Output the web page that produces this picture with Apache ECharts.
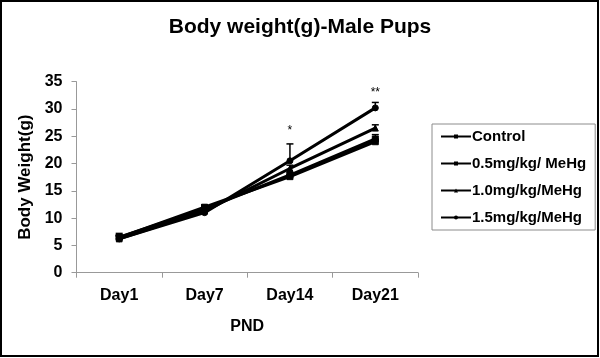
<!DOCTYPE html>
<html>
<head>
<meta charset="utf-8">
<script src="https://cdn.jsdelivr.net/npm/echarts@6/dist/echarts.min.js"></script>
<style>
html,body{margin:0;padding:0;background:#fff;}
#chart{width:600px;height:358px;}
</style>
</head>
<body>
<div id="chart"></div>
<script>
var categories = ['Day1', 'Day7', 'Day14', 'Day21'];
var yTicks = [0, 5, 10, 15, 20, 25, 30, 35];
var seriesNames = ['Control', '0.5mg/kg/ MeHg', '1.0mg/kg/MeHg', '1.5mg/kg/MeHg'];
var control = [6.4, 12.0, 17.6, 24.0];
var mg05 = [6.5, 11.7, 17.9, 24.5];
var mg10 = [6.2, 11.3, 19.1, 26.5];
var mg15 = [6.2, 11.0, 20.5, 30.2];
var errControl = [0.5, 0.4, 0.4, 0.4];
var errMg05 = [0.7, 0.4, 0.5, 0.8];
var errMg10 = [0.6, 0.4, 0.6, 0.6];
var errMg15 = [0.5, 0.4, 3.1, 1.0];
var sigMarks = [[2, 26.1, '*'], [3, 33.0, '**']];

var FONT = 'Liberation Sans, Arial, sans-serif';
var chart = echarts.init(document.getElementById('chart'), null, {renderer: 'canvas'});

var allValues = [control, mg05, mg10, mg15];
var allErrs = [errControl, errMg05, errMg10, errMg15];
var symbols = ['rect', 'rect', 'triangle', 'circle'];

var series = [];
allValues.forEach(function (vals, i) {
  series.push({
    name: seriesNames[i],
    type: 'line',
    data: vals,
    symbol: symbols[i],
    symbolSize: 6,
    showAllSymbol: true,
    lineStyle: {color: '#000', width: 3},
    itemStyle: {color: '#000', borderColor: '#000'},
    z: 3
  });
});
allValues.forEach(function (vals, i) {
  var errs = allErrs[i];
  series.push({
    type: 'custom',
    silent: true,
    z: 4,
    data: vals.map(function (v, k) { return [k, v, errs[k]]; }),
    renderItem: function (params, api) {
      var x = api.value(0), v = api.value(1), e = api.value(2);
      var p0 = api.coord([x, v]);
      var p1 = api.coord([x, v + e]);
      var hw = 3.5;
      return {
        type: 'group',
        children: [
          {type: 'line', shape: {x1: p0[0], y1: p0[1], x2: p1[0], y2: p1[1]}, style: {stroke: '#000', lineWidth: 1.5}},
          {type: 'line', shape: {x1: p1[0] - hw, y1: p1[1], x2: p1[0] + hw, y2: p1[1]}, style: {stroke: '#000', lineWidth: 1.5}}
        ]
      };
    }
  });
});
series.push({
  type: 'custom',
  silent: true,
  z: 5,
  data: sigMarks,
  renderItem: function (params, api) {
    var p = api.coord([api.value(0), api.value(1)]);
    return {
      type: 'text',
      x: p[0],
      y: p[1],
      style: {
        text: sigMarks[params.dataIndex][2],
        fill: '#000',
        font: '12px ' + FONT,
        align: 'center',
        verticalAlign: 'middle'
      }
    };
  }
});

chart.setOption({
  backgroundColor: '#fff',
  animation: false,
  title: {
    text: 'Body weight(g)-Male Pups',
    left: 'center',
    top: 12,
    textStyle: {fontFamily: FONT, fontWeight: 'bold', fontSize: 21, color: '#000'}
  },
  graphic: [{
    type: 'rect',
    shape: {x: 1, y: 1, width: 597, height: 355},
    style: {fill: 'none', stroke: '#000', lineWidth: 2},
    silent: true
  }],
  legend: {
    orient: 'vertical',
    left: 432,
    top: 124,
    data: seriesNames,
    itemWidth: 30,
    itemHeight: 5,
    itemGap: 12,
    padding: [5, 9, 5, 8],
    borderColor: '#8c8c8c',
    borderWidth: 1,
    textStyle: {fontFamily: FONT, fontWeight: 'bold', fontSize: 15, color: '#000', padding: [0, 0, 0, -4]}
  },
  grid: {left: 76.5, right: 182, top: 81.7, bottom: 85.3, containLabel: false},
  xAxis: {
    type: 'category',
    data: categories,
    boundaryGap: true,
    name: 'PND',
    nameLocation: 'middle',
    nameGap: 46,
    nameTextStyle: {fontFamily: FONT, fontWeight: 'bold', fontSize: 16, color: '#000'},
    axisLine: {lineStyle: {color: '#999', width: 1}},
    axisTick: {show: true, length: 5, lineStyle: {color: '#999'}},
    axisLabel: {fontFamily: FONT, fontWeight: 'bold', fontSize: 16, color: '#000', margin: 15}
  },
  yAxis: {
    type: 'value',
    min: yTicks[0],
    max: yTicks[yTicks.length - 1],
    interval: 5,
    name: 'Body Weight(g)',
    nameLocation: 'middle',
    nameGap: 43,
    nameTextStyle: {fontFamily: FONT, fontWeight: 'bold', fontSize: 17, color: '#000'},
    axisLine: {show: true, lineStyle: {color: '#999', width: 1}},
    axisTick: {show: true, length: 5, lineStyle: {color: '#999'}},
    splitLine: {show: false},
    axisLabel: {fontFamily: FONT, fontWeight: 'bold', fontSize: 16, color: '#000', margin: 14}
  },
  series: series
});
</script>
</body>
</html>
